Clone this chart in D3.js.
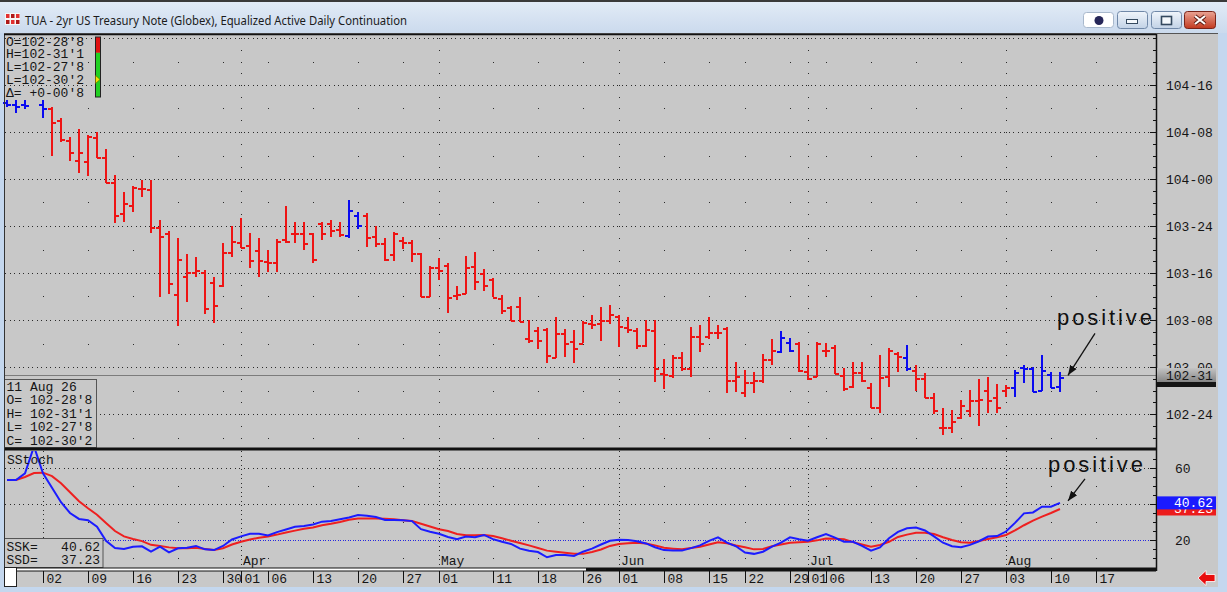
<!DOCTYPE html>
<html>
<head>
<meta charset="utf-8">
<script src="https://cdnjs.cloudflare.com/ajax/libs/d3/7.8.5/d3.min.js"></script>
<style>
  body { margin: 0; background: #c4d7ee; overflow: hidden; }
  svg { display: block; }
  .mono { font-family: "Liberation Mono", "DejaVu Sans Mono", monospace; font-size: 13px; fill: #151515; }
</style>
</head>
<body>
<svg id="chart" width="1227" height="592"></svg>
<script>
// daily bars by trading-day index (0 = Feb 24 ... 117 = Aug 11), null = no bar
const open = [104.410, 104.399, 104.399, null, 104.399, 104.378, 104.314, 104.207, 104.101, 104.097,
  104.225, 104.119, 103.986, 103.819, 103.862, 103.952, 103.947, 103.745, 103.714, 103.388,
  103.484, 103.507, 103.507, 103.454, 103.436, 103.613, 103.667, 103.649, 103.622, 103.565,
  103.560, 103.679, 103.711, 103.714, 103.711, 103.764, 103.768, 103.732, 103.702, 103.809,
  103.809, 103.697, 103.661, 103.601, 103.676, 103.667, 103.605, 103.378, 103.530, 103.543,
  103.383, 103.392, 103.537, 103.498, 103.468, 103.367, 103.321, 103.324, 103.153, 103.197,
  103.201, 103.055, 103.179, 103.140, 103.129, 103.232, 103.232, 103.250, 103.271, 103.211,
  103.197, 103.117, 103.197, 102.966, 102.957, 103.055, 102.997, 103.165, 103.165, 103.188,
  103.206, 102.931, 102.869, 102.922, 102.931, 103.041, 103.087, 103.135, 103.129, 102.980,
  102.952, 103.090, 103.108, 102.957, 102.899, 102.975, 102.892, 102.786, 102.952, 103.073,
  103.055, 102.984, 102.940, 102.842, 102.682, 102.682, 102.736, 102.771, 102.824, 102.878,
  102.842, 102.878, 102.892, 103.002, 102.993, 102.878, 102.963, 102.898]
const high = [104.420, 104.420, 104.420, null, 104.420, 104.385, 104.324, 104.225, 104.266, 104.234,
  104.252, 104.160, 104.021, 103.932, 103.963, 103.995, 103.995, 103.782, 103.725, 103.686,
  103.601, 103.585, 103.516, 103.480, 103.658, 103.750, 103.793, 103.711, 103.685, 103.622,
  103.679, 103.856, 103.773, 103.773, 103.714, 103.773, 103.782, 103.773, 103.888, 103.826,
  103.818, 103.750, 103.685, 103.720, 103.693, 103.676, 103.609, 103.537, 103.582, 103.553,
  103.431, 103.590, 103.614, 103.521, 103.473, 103.383, 103.324, 103.371, 103.250, 103.211,
  103.206, 103.268, 103.201, 103.197, 103.246, 103.277, 103.321, 103.330, 103.277, 103.268,
  103.206, 103.250, 103.250, 103.041, 103.064, 103.081, 103.211, 103.223, 103.264, 103.223,
  103.211, 103.028, 102.984, 102.975, 103.069, 103.147, 103.193, 103.153, 103.135, 103.064,
  103.135, 103.126, 103.117, 102.993, 103.028, 103.028, 102.913, 103.064, 103.099, 103.081,
  103.117, 103.011, 102.966, 102.863, 102.780, 102.771, 102.824, 102.878, 102.935, 102.945,
  102.910, 102.904, 102.984, 103.011, 103.002, 103.064, 102.975, 102.973]
const low = [104.383, 104.353, 104.372, null, 104.323, 104.124, 104.198, 104.096, 104.034, 104.016,
  104.110, 103.977, 103.764, 103.773, 103.826, 103.906, 103.714, 103.374, 103.388, 103.220,
  103.347, 103.479, 103.280, 103.232, 103.427, 103.587, 103.633, 103.525, 103.480, 103.507,
  103.507, 103.658, 103.658, 103.622, 103.552, 103.676, 103.693, 103.690, 103.688, 103.732,
  103.640, 103.640, 103.564, 103.564, 103.626, 103.559, 103.371, 103.375, 103.461, 103.289,
  103.358, 103.386, 103.410, 103.404, 103.371, 103.282, 103.246, 103.241, 103.126, 103.094,
  103.023, 103.046, 103.055, 103.023, 103.126, 103.201, 103.140, 103.229, 103.105, 103.179,
  103.094, 103.105, 102.922, 102.881, 102.940, 102.981, 102.949, 103.081, 103.147, 103.147,
  102.860, 102.869, 102.842, 102.860, 102.916, 103.011, 103.073, 103.081, 102.975, 102.931,
  102.948, 103.055, 102.963, 102.874, 102.887, 102.922, 102.780, 102.754, 102.892, 102.975,
  102.980, 102.874, 102.834, 102.750, 102.638, 102.647, 102.722, 102.736, 102.686, 102.757,
  102.754, 102.842, 102.839, 102.916, 102.869, 102.874, 102.887, 102.867]
const close = [104.399, 104.388, 104.394, null, 104.378, 104.305, 104.213, 104.145, 104.145, 104.229,
  104.115, 103.982, 103.809, 103.872, 103.957, 103.950, 103.745, 103.697, 103.448, 103.574,
  103.507, 103.516, 103.312, 103.330, 103.613, 103.672, 103.640, 103.569, 103.569, 103.560,
  103.670, 103.672, 103.714, 103.661, 103.574, 103.711, 103.729, 103.707, 103.835, 103.755,
  103.693, 103.661, 103.573, 103.711, 103.667, 103.605, 103.378, 103.530, 103.516, 103.374,
  103.388, 103.534, 103.457, 103.436, 103.372, 103.303, 103.250, 103.246, 103.144, 103.144,
  103.064, 103.179, 103.129, 103.099, 103.241, 103.229, 103.250, 103.282, 103.218, 103.201,
  103.117, 103.201, 102.993, 102.961, 103.055, 102.993, 103.165, 103.129, 103.188, 103.188,
  102.931, 102.952, 102.922, 102.931, 103.041, 103.090, 103.158, 103.090, 102.984, 102.940,
  103.126, 103.090, 102.970, 102.887, 102.975, 102.931, 102.786, 102.948, 103.090, 103.059,
  102.993, 102.940, 102.839, 102.771, 102.682, 102.714, 102.798, 102.824, 102.828, 102.824,
  102.789, 102.894, 102.975, 102.993, 102.874, 102.984, 102.892, 102.945]
// bars painted blue by the platform's trend colouring
const blueBars = [0, 1, 2, 4, 38, 39, 86, 87, 100, 112, 113, 114, 115, 116, 117]

// slow stochastic, same day index
const ssk = [53.3, 53.3, 57, 72, 57, 49, 41, 35, 31.7, 31,
  27.4, 19.5, 15.5, 15, 16.3, 16.5, 13.5, 16.3, 13.1, 15.4,
  15.7, 16.7, 14.8, 14.4, 16.7, 20.3, 22, 23.5, 23.5, 22.5,
  24.4, 25.8, 27.3, 27.8, 28.6, 30.2, 30.5, 31.5, 32.5, 33.9,
  33.5, 32.8, 31.1, 31.1, 31, 30.5, 26, 24.6, 23.5, 21.7,
  20.4, 21.9, 21.5, 22.8, 20.5, 19, 17.8, 15.2, 14, 13.3,
  10.4, 11.7, 11.7, 11.1, 13.5, 15.2, 17.5, 19.6, 20.2, 20,
  19.3, 18.1, 16, 14.4, 14.2, 14.1, 15.5, 17, 19.5, 21.5,
  18.5, 16.5, 13, 12.3, 13.5, 16.3, 18.5, 21.5, 20.4, 19.6,
  21.5, 23.3, 21.3, 19, 19, 16.7, 14.1, 15.9, 21, 24.5,
  26.5, 26.9, 25.3, 22, 18.5, 16.5, 16, 17.3, 19.3, 21.9,
  22.2, 24.7, 29.5, 34.8, 35.3, 38.5, 38.5, 40.62]
const ssd = [53.3, 53.3, 55, 57.2, 57.4, 55.5, 51.5, 46.5, 41.5, 37.6,
  34, 29.5, 25, 22, 20.6, 19.4, 17.3, 16.7, 15.9, 15.4,
  15.4, 15.7, 15, 14.4, 15.4, 17.5, 19, 20.3, 21.3, 22,
  23, 24.2, 25.2, 26.2, 27, 28.2, 29, 30, 31.3, 32,
  32, 32, 31.8, 31.5, 31, 30.5, 29, 27.5, 26, 25,
  23.3, 22.7, 22.6, 22.8, 22.2, 21, 19.6, 18.3, 17, 15.6,
  14.1, 13.5, 12.9, 12.4, 12.3, 13.3, 14.7, 16.7, 17.8, 18.2,
  18.5, 18, 17, 15.7, 15.2, 14.8, 15.5, 16.3, 17.5, 18.8,
  18.2, 17, 16, 14.8, 15, 16.5, 17.5, 18.5, 18.8, 19,
  19.8, 20.8, 20.7, 20.4, 18.8, 17.5, 16.3, 17.2, 19, 21.7,
  23, 24, 24, 23.3, 21.5, 20, 18.8, 18.5, 19.5, 20.6,
  21.5, 22.8, 25.3, 28.2, 30.8, 33, 35, 37.23]

const tickDay = [4, 9, 14, 19, 24, 26, 29, 34, 39, 44, 48, 54, 59, 64, 68, 73, 78, 82, 87, 89, 91, 96, 101, 106, 111, 116, 121]
const tickText = ["02", "09", "16", "23", "30", "01", "06", "13", "20", "27", "01", "11", "18", "26",
  "01", "08", "15", "22", "29", "01", "06", "13", "20", "27", "03", "10", "17"]
// month starts (Mar 2 .. Aug 3); the Mar name sits under the SSK box and is not shown
const monthDay = [4, 26, 48, 68, 89, 111]
const monthLabelDay = [26, 48, 68, 89, 111]
const monthText = ["Apr", "May", "Jun", "Jul", "Aug"]

const priceTicks = ["104-16", "104-08", "104-00", "103-24", "103-16", "103-08", "103-00", "102-24"]
const stochMajor = [60, 40, 20]
const stochLabels = [60, 20]   // the 40 label is covered by the value boxes
const lastPrice = 102.96

const topInfo = ["O=102-28'8", "H=102-31'1", "L=102-27'8", "L=102-30'2", "\u0394= +0-00'8"]
const boxInfo = ["11 Aug 26", "O= 102-28'8", "H= 102-31'1", "L= 102-27'8", "C= 102-30'2"]
const stochInfo = ["SSK=   40.62", "SSD=   37.23"]
const title = "TUA - 2yr US Treasury Note (Globex), Equalized Active Daily Continuation"

const parse32 = s => { const p = s.split("-"); return +p[0] + (+p[1]) / 32 }
const fmt32 = v => {
  let a = Math.floor(v), b = Math.round((v - a) * 32)
  if (b === 32) { a++; b = 0 }
  return a + "-" + String(b).padStart(2, "0")
}

const svg = d3.select("#chart")
const defs = svg.append("defs")

// layout
const plotL = 5, plotR = 1156
const mainTop = 36, mainBot = 447
const lowTop = 451, lowBot = 567

const x = d3.scaleLinear().domain([0, 117]).range([7, 1060])
const y = d3.scaleLinear().domain([102.75, 104.5]).range([414, 85])
const ys = d3.scaleLinear().domain([20, 60]).range([540, 468])

function grad(id, c1, c2) {
  const g = defs.append("linearGradient").attr("id", id)
    .attr("x1", 0).attr("y1", 0).attr("x2", 0).attr("y2", 1)
  g.append("stop").attr("offset", "0%").attr("stop-color", c1)
  g.append("stop").attr("offset", "100%").attr("stop-color", c2)
}
grad("gTitle", "#e3ecf7", "#cbdaed")
grad("gBtn", "#f0f5fb", "#c2d2e6")
grad("gClose", "#eaa494", "#c2391f")
grad("gLast", "#c4c4c4", "#858585")

//////////
// WINDOW //
//////////
svg.append("rect").attr("width", 1227).attr("height", 33).attr("fill", "url(#gTitle)")
svg.append("rect").attr("width", 1227).attr("height", 2).attr("fill", "#3a3a3a")

// app icon
svg.append("rect").attr("x", 5).attr("y", 13).attr("width", 15).attr("height", 12).attr("fill", "#f6f6f6")
;[[6, 14], [11, 14], [16, 14], [6, 20], [11, 20], [16, 20]].forEach((p, k) => {
  svg.append("rect").attr("x", p[0]).attr("y", p[1]).attr("width", 3.5).attr("height", 4)
    .attr("fill", k % 2 ? "#b01818" : "#e23030")
})

svg.append("text")
  .attr("x", 25).attr("y", 24.5)
  .attr("textLength", 382).attr("lengthAdjust", "spacingAndGlyphs")
  .style("font", "12.5px 'Noto Sans', 'Open Sans', sans-serif")
  .attr("fill", "#1b1b1b")
  .text(title)

// caption buttons
svg.append("rect").attr("x", 1083.5).attr("y", 12.5).attr("width", 30).attr("height", 15).attr("rx", 3)
  .attr("fill", "#fff").attr("stroke", "#a8b8cc")
svg.append("circle").attr("cx", 1099).attr("cy", 20.5).attr("r", 4.5).attr("fill", "#262658")
;[1117.5, 1151.5].forEach(bx => {
  svg.append("rect").attr("x", bx).attr("y", 11.5).attr("width", 30).attr("height", 17).attr("rx", 3)
    .attr("fill", "url(#gBtn)").attr("stroke", "#7088a8")
})
svg.append("rect").attr("x", 1126.5).attr("y", 19.5).attr("width", 11).attr("height", 4)
  .attr("fill", "#f4f8fc").attr("stroke", "#34495f")
svg.append("rect").attr("x", 1161.5).attr("y", 16.5).attr("width", 10).attr("height", 8)
  .attr("fill", "#f4f8fc").attr("stroke", "#34495f").attr("stroke-width", 1.6)
svg.append("rect").attr("x", 1184.5).attr("y", 11.5).attr("width", 31).attr("height", 17).attr("rx", 3)
  .attr("fill", "url(#gClose)").attr("stroke", "#7a2418")
svg.append("path").attr("d", "M1195,16 L1205,24 M1205,16 L1195,24")
  .attr("stroke", "#5a1a10").attr("stroke-width", 4)
svg.append("path").attr("d", "M1195,16 L1205,24 M1205,16 L1195,24")
  .attr("stroke", "#fff").attr("stroke-width", 2.2)

// chart background
svg.append("rect").attr("x", 4).attr("y", 33).attr("width", 1214).attr("height", 554).attr("fill", "#c8c8c8")
svg.append("line").attr("x1", 4).attr("x2", 1218).attr("y1", 33.5).attr("y2", 33.5).attr("stroke", "#555")

//////////
// GRID //
//////////
const dot = "#2a2a2a"
const grid = svg.append("g").attr("shape-rendering", "crispEdges")

// main panel: dotted rows at 8/32 levels, sparse dots at the 4/32 levels
d3.range(102.75, 104.76, 0.25).forEach(v => {
  grid.append("line").attr("x1", plotL).attr("x2", plotR)
    .attr("y1", Math.round(y(v)) + 0.5).attr("y2", Math.round(y(v)) + 0.5)
    .attr("stroke", dot).attr("stroke-dasharray", "1 3.5")
})
const weekCols = tickDay.filter(d => !monthDay.includes(d))
const mainCols = weekCols.concat([4])
d3.range(102.625, 104.8, 0.25).forEach(v => {
  const yy = Math.round(y(v))
  if (yy < mainTop || yy > mainBot) return
  mainCols.forEach(d => {
    grid.append("rect").attr("x", Math.round(x(d))).attr("y", yy).attr("width", 1).attr("height", 1).attr("fill", dot)
  })
})
// month columns, dots at each 2/32
monthDay.slice(1).forEach(d => {
  d3.range(102.5, 104.8, 1 / 16).forEach(v => {
    const yy = Math.round(y(v))
    if (yy < mainTop || yy > mainBot) return
    grid.append("rect").attr("x", Math.round(x(d))).attr("y", yy).attr("width", 1).attr("height", 1).attr("fill", dot)
  })
})

// lower panel
;[60, 40].forEach(v => {
  grid.append("line").attr("x1", plotL).attr("x2", plotR)
    .attr("y1", Math.round(ys(v)) + 0.5).attr("y2", Math.round(ys(v)) + 0.5)
    .attr("stroke", dot).attr("stroke-dasharray", "1 3.5")
})
;[50, 30, 10].forEach(v => {
  weekCols.forEach(d => {
    grid.append("rect").attr("x", Math.round(x(d))).attr("y", Math.round(ys(v))).attr("width", 1).attr("height", 1).attr("fill", dot)
  })
})
monthDay.forEach(d => {
  grid.append("line").attr("x1", Math.round(x(d)) + 0.5).attr("x2", Math.round(x(d)) + 0.5)
    .attr("y1", lowTop).attr("y2", lowBot)
    .attr("stroke", dot).attr("stroke-dasharray", "1 3.5")
})
grid.append("line").attr("x1", plotL).attr("x2", plotR)
  .attr("y1", Math.round(ys(20)) + 0.5).attr("y2", Math.round(ys(20)) + 0.5)
  .attr("stroke", "#2626e0").attr("stroke-dasharray", "1 1.5")

// last price line
svg.append("line").attr("x1", plotL).attr("x2", plotR)
  .attr("y1", Math.round(y(lastPrice)) + 0.5).attr("y2", Math.round(y(lastPrice)) + 0.5)
  .attr("stroke", "#7c7c7c").attr("shape-rendering", "crispEdges")

//////////
// BARS //
//////////
const bars = open.map((o, i) => o == null ? null : { i, o, h: high[i], l: low[i], c: close[i] })
  .filter(d => d)
const barG = svg.append("g").attr("shape-rendering", "crispEdges")
const barColor = d => blueBars.includes(d.i) ? "#0a0af0" : "#ee1414"
barG.selectAll("line.hl").data(bars).join("line")
  .attr("x1", d => x(d.i)).attr("x2", d => x(d.i))
  .attr("y1", d => y(d.h)).attr("y2", d => y(d.l))
  .attr("stroke", barColor).attr("stroke-width", 2)
barG.selectAll("line.op").data(bars).join("line")
  .attr("x1", d => x(d.i) - 4).attr("x2", d => x(d.i))
  .attr("y1", d => Math.round(y(d.o)) + 1).attr("y2", d => Math.round(y(d.o)) + 1)
  .attr("stroke", barColor).attr("stroke-width", 2)
barG.selectAll("line.cl").data(bars).join("line")
  .attr("x1", d => x(d.i)).attr("x2", d => x(d.i) + 4)
  .attr("y1", d => Math.round(y(d.c)) + 1).attr("y2", d => Math.round(y(d.c)) + 1)
  .attr("stroke", barColor).attr("stroke-width", 2)

//////////
// STOCHASTIC //
//////////
defs.append("clipPath").attr("id", "lowClip").append("rect")
  .attr("x", plotL).attr("y", lowTop).attr("width", plotR - plotL).attr("height", lowBot - lowTop)
const line = d3.line().x((d, i) => x(i)).y(d => ys(d))
const stochG = svg.append("g").attr("clip-path", "url(#lowClip)")
stochG.append("path").attr("d", line(ssd)).attr("fill", "none").attr("stroke", "#ee2020").attr("stroke-width", 2)
stochG.append("path").attr("d", line(ssk)).attr("fill", "none").attr("stroke", "#1c1cff").attr("stroke-width", 2)

svg.append("text").attr("class", "mono").attr("x", 7).attr("y", 463.5).text("SStoch")

// month names inside the lower panel
svg.selectAll("text.month").data(monthLabelDay).join("text")
  .attr("class", "mono").attr("x", d => x(d) + 2).attr("y", 565)
  .text((d, i) => monthText[i])

//////////
// INFO BOXES //
//////////
svg.selectAll("text.top").data(topInfo).join("text")
  .attr("class", "mono").attr("x", 6).attr("y", (d, i) => 45.5 + i * 12.75).text(d => d)

// day range gauge: red from high to close, green from close to low, marker at open
const last = bars[bars.length - 1]
const g = d3.scaleLinear().domain([last.l, last.h]).range([97, 37])
svg.append("rect").attr("x", 95.5).attr("y", g(last.h)).attr("width", 5).attr("height", g(last.c) - g(last.h)).attr("fill", "#e01010")
svg.append("rect").attr("x", 95.5).attr("y", g(last.c)).attr("width", 5).attr("height", g(last.l) - g(last.c)).attr("fill", "#22d022")
svg.append("rect").attr("x", 95.5).attr("y", g(last.h)).attr("width", 5).attr("height", g(last.l) - g(last.h))
  .attr("fill", "none").attr("stroke", "#222")
svg.append("path").attr("d", `M95.5,${g(last.o) - 4}L100,${g(last.o)}L95.5,${g(last.o) + 4}Z`)
  .attr("fill", "#f2e400").attr("stroke", "#6a6000").attr("stroke-width", 0.6)

svg.append("rect").attr("x", 4.5).attr("y", 379.5).attr("width", 92).attr("height", 68)
  .attr("fill", "#c8c8c8").attr("stroke", "#555")
svg.selectAll("text.box").data(boxInfo).join("text")
  .attr("class", "mono").attr("x", 6.5).attr("y", (d, i) => 391 + i * 13.4).text(d => d)

svg.append("rect").attr("x", 4.5).attr("y", 538.5).attr("width", 98.5).attr("height", 29)
  .attr("fill", "#c8c8c8").attr("stroke", "#555")
svg.selectAll("text.sto").data(stochInfo).join("text")
  .attr("class", "mono").attr("x", 6.5).attr("y", (d, i) => 550.5 + i * 13).style("white-space", "pre")
  .attr("xml:space", "preserve").text(d => d)

//////////
// AXES //
//////////
// panel divider and frame
svg.append("rect").attr("x", 4).attr("y", 447.5).attr("width", plotR - 4).attr("height", 3).attr("fill", "#111")
svg.append("line").attr("x1", 4.5).attr("x2", 4.5).attr("y1", 34).attr("y2", 571).attr("stroke", "#333")
svg.append("line").attr("x1", 4).attr("x2", plotR).attr("y1", 34.5).attr("y2", 34.5).attr("stroke", "#111").attr("stroke-width", 1.5)

// price axis
const pAxis = svg.append("g").attr("transform", `translate(${plotR},0)`)
  .call(d3.axisRight(y).tickValues(priceTicks.map(parse32)).tickFormat(fmt32).tickSize(-6).tickPadding(10))
const pMinor = svg.append("g").attr("transform", `translate(${plotR},0)`)
  .call(d3.axisRight(y).tickValues(d3.range(102.5, 104.8, 1 / 16).filter(v => y(v) > mainTop && y(v) < mainBot))
    .tickFormat("").tickSize(-3))
// stochastic axis
const sAxis = svg.append("g").attr("transform", `translate(${plotR},0)`)
  .call(d3.axisRight(ys).tickValues(stochLabels).tickSize(-6).tickPadding(19))
const sMajor = svg.append("g").attr("transform", `translate(${plotR},0)`)
  .call(d3.axisRight(ys).tickValues(stochMajor).tickFormat("").tickSize(-6))
const sMinor = svg.append("g").attr("transform", `translate(${plotR},0)`)
  .call(d3.axisRight(ys).tickValues(d3.range(10, 70, 5)).tickFormat("").tickSize(-3))
;[pAxis, pMinor, sAxis, sMajor, sMinor].forEach(a => {
  a.select(".domain").remove()
  a.selectAll("line").attr("stroke", "#111").attr("shape-rendering", "crispEdges")
  a.selectAll("text").attr("class", "mono").attr("fill", "#151515")
})
svg.append("line").attr("x1", plotR + 0.5).attr("x2", plotR + 0.5).attr("y1", 34).attr("y2", 571)
  .attr("stroke", "#111").attr("stroke-width", 1.5)

// current value markers on the right scale
const yl = Math.round(y(lastPrice))
svg.append("rect").attr("x", 1157).attr("y", yl - 2).attr("width", 59).attr("height", 14).attr("fill", "#151515")
svg.append("rect").attr("x", 1157).attr("y", yl - 7).attr("width", 59).attr("height", 14).attr("fill", "url(#gLast)")
svg.append("text").attr("class", "mono").attr("x", 1166).attr("y", yl + 4.5).text(fmt32(lastPrice))

const kLast = ssk[ssk.length - 1], dLast = ssd[ssd.length - 1]
svg.append("rect").attr("x", 1157).attr("y", ys(dLast) - 6.5).attr("width", 59).attr("height", 13).attr("fill", "#ec1c1c")
svg.append("text").attr("class", "mono").attr("x", 1174).attr("y", ys(dLast) + 4.5).style("fill", "#fff").text(dLast.toFixed(2))
svg.append("rect").attr("x", 1157).attr("y", ys(kLast) - 6.5).attr("width", 59).attr("height", 13).attr("fill", "#1a1aff")
svg.append("text").attr("class", "mono").attr("x", 1174).attr("y", ys(kLast) + 4.5).style("fill", "#fff").text(kLast.toFixed(2))

// date axis
svg.append("rect").attr("x", 4).attr("y", 567.5).attr("width", plotR - 4).attr("height", 4).attr("fill", "#111")
svg.append("rect").attr("x", 17).attr("y", 568.5).attr("width", 569).attr("height", 2).attr("fill", "#fff")
const xAxis = svg.append("g").attr("transform", "translate(0,571)")
  .call(d3.axisBottom(x).tickValues(tickDay).tickFormat((d, i) => tickText[i]).tickSize(12))
xAxis.select(".domain").remove()
xAxis.selectAll("line").attr("stroke", "#111").attr("shape-rendering", "crispEdges")
xAxis.selectAll("text").attr("class", "mono").attr("fill", "#151515")
  .attr("text-anchor", "start").attr("x", 3).attr("y", 12).attr("dy", 0)

// scroll thumb and back arrow
svg.append("rect").attr("x", 4.5).attr("y", 567.5).attr("width", 12).attr("height", 19)
  .attr("fill", "#fff").attr("stroke", "#222")
svg.append("path").attr("d", "M1198,578 L1206,570.5 L1206,574.5 L1215,574.5 L1215,581.5 L1206,581.5 L1206,585.5 Z")
  .attr("fill", "#e80c0c").attr("stroke", "#fff").attr("stroke-width", 0.8)

//////////
// ANNOTATIONS //
//////////
defs.append("marker").attr("id", "arr").attr("viewBox", "0 0 10 10")
  .attr("refX", 10).attr("refY", 5).attr("markerWidth", 10).attr("markerHeight", 10)
  .attr("markerUnits", "userSpaceOnUse").attr("orient", "auto")
  .append("path").attr("d", "M0,1.2 L10,5 L0,8.8 Z").attr("fill", "#111")

function note(tx, ty, px, py, lx, ly) {
  svg.append("text").attr("x", tx).attr("y", ty)
    .style("font", "22px 'Liberation Sans', Arial, sans-serif").style("letter-spacing", "2.9px")
    .attr("fill", "#111").text("positive")
  svg.append("line").attr("x1", lx).attr("y1", ly).attr("x2", px).attr("y2", py)
    .attr("stroke", "#111").attr("stroke-width", 1.3).attr("marker-end", "url(#arr)")
}
note(1057, 325, x(117) + 8, y(last.c) - 2, x(117) + 35, y(last.c) - 44)
note(1048, 472, x(117) + 8, ys(kLast) - 2, x(117) + 25, ys(kLast) - 24)
</script>
</body>
</html>
